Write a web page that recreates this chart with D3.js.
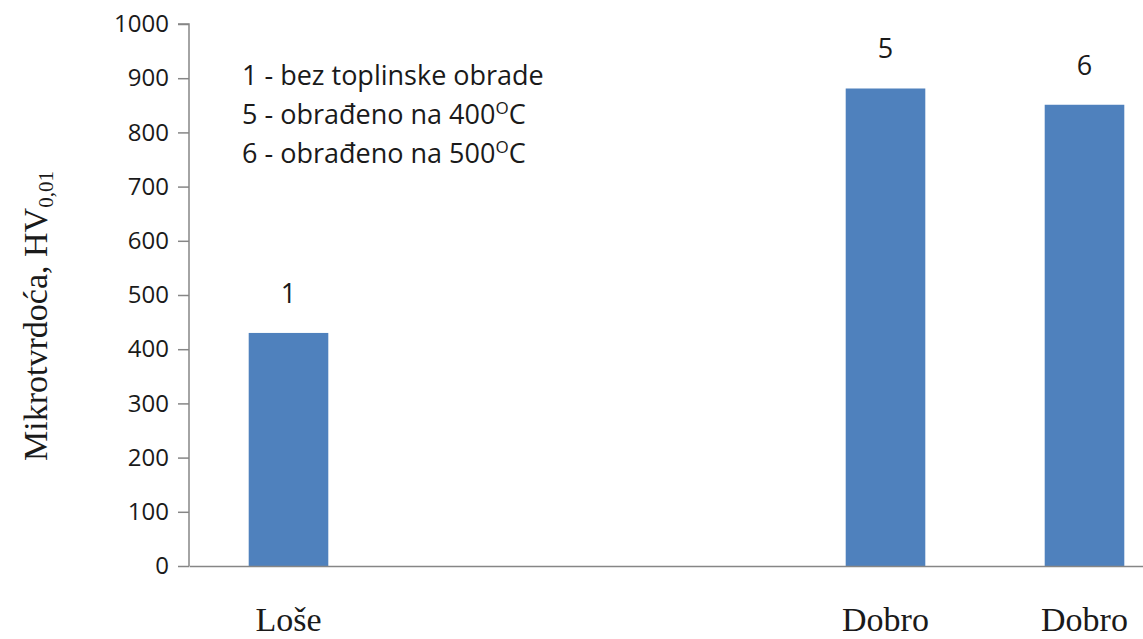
<!DOCTYPE html>
<html>
<head>
<meta charset="utf-8">
<script src="https://cdn.jsdelivr.net/npm/d3@7"></script>
<style>
  body { margin: 0; background: #fff; }
  .ax text { fill: #1a1a1a; }
</style>
</head>
<body>
<svg class="hv" width="1143" height="639"></svg>
<script>
// slots on the x axis, 2 and 3 are empty in the figure
const sampleIds = ['1', '2', '3', '5', '6']
const hardness = [430, null, null, 881, 851]
const quality = ['Loše', '', '', 'Dobro', 'Dobro']
const yTicks = [0, 100, 200, 300, 400, 500, 600, 700, 800, 900, 1000]
const legendLines = [
  ['1 - bez toplinske obrade', null],
  ['5 - obrađeno na 400', 'C'],
  ['6 - obrađeno na 500', 'C']
]

const svg = d3.select('.hv')
const margin = { top: 24, left: 189, bottom: 73 }
const height = +svg.attr('height')
const innerH = height - margin.top - margin.bottom

const data = sampleIds.map((id, i) => ({ id: id, val: hardness[i], q: quality[i] }))

const xscale = d3.scaleBand()
  .domain(sampleIds)
  .range([0, 995])
  .paddingInner(0.6)
  .paddingOuter(0.3)
const yscale = d3.scaleLinear().domain([0, 1000]).range([innerH, 0])

const g = svg.append('g').attr('transform', `translate(${margin.left},${margin.top})`)

// bars
g.selectAll('rect').data(data.filter(d => d.val != null))
  .enter().append('rect')
  .attr('x', d => xscale(d.id))
  .attr('y', d => yscale(d.val))
  .attr('width', xscale.bandwidth())
  .attr('height', d => innerH - yscale(d.val))
  .attr('fill', '#4f81bd')

// numbers above bars
g.selectAll('.lab').data(data.filter(d => d.val != null))
  .enter().append('text')
  .attr('class', 'lab')
  .attr('x', d => xscale(d.id) + xscale.bandwidth() / 2)
  .attr('y', d => yscale(d.val) - 30)
  .attr('text-anchor', 'middle')
  .style('font-family', '"Open Sans", sans-serif')
  .style('font-size', '27px')
  .attr('fill', '#1a1a1a')
  .text(d => d.id)

// y axis
const yAxis = d3.axisLeft(yscale).tickValues(yTicks).tickFormat(d3.format('d'))
  .tickSize(11).tickPadding(9)
const ya = g.append('g').attr('class', 'ax').call(yAxis)
ya.selectAll('text')
  .style('font-family', '"Open Sans", sans-serif')
  .style('font-size', '24px')
ya.selectAll('line').attr('stroke', '#868686').attr('stroke-width', 1.5)
ya.select('.domain').attr('stroke', '#868686').attr('stroke-width', 1.5)
  .attr('d', `M0,${innerH}V0H-11`)

// x axis
const xAxis = d3.axisBottom(xscale).tickSize(0).tickPadding(41)
  .tickFormat(id => data.find(d => d.id == id).q)
const xa = g.append('g').attr('class', 'ax')
  .attr('transform', `translate(0,${innerH})`)
  .call(xAxis)
xa.selectAll('text')
  .style('font-family', '"Liberation Serif", "Times New Roman", serif')
  .style('font-size', '34px')
xa.select('.domain').attr('stroke', '#868686').attr('stroke-width', 1.5)

// axis title
const title = svg.append('text')
  .attr('transform', 'translate(47,316) rotate(-90)')
  .attr('text-anchor', 'middle')
  .style('font-family', '"Liberation Serif", "Times New Roman", serif')
  .style('font-size', '34px')
  .attr('fill', '#1a1a1a')
title.append('tspan').text('Mikrotvrdoća, HV')
title.append('tspan').attr('dy', 6).style('font-size', '21px').text('0,01')

// legend text
const leg = svg.append('g').attr('transform', 'translate(242,85)')
legendLines.forEach((l, i) => {
  const t = leg.append('text')
    .attr('y', i * 39)
    .style('font-family', '"Open Sans", sans-serif')
    .style('font-size', '27px')
    .attr('fill', '#1a1a1a')
  t.append('tspan').text(l[0])
  if (l[1]) {
    t.append('tspan').attr('dy', -10).style('font-size', '17px').text('O')
    t.append('tspan').attr('dy', 10).text(l[1])
  }
})
</script>
</body>
</html>
